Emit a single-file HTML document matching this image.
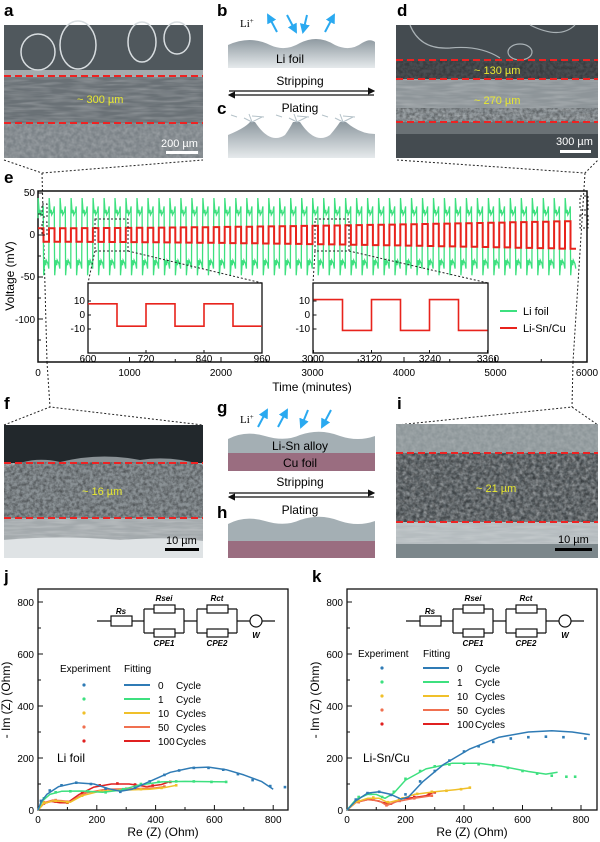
<!DOCTYPE html>
<html><head><meta charset="utf-8">
<style>
html,body{margin:0;padding:0;background:#fff;}
svg{display:block;font-family:"Liberation Sans",sans-serif;}
.lbl{font-weight:bold;font-size:17px;}
.t{font-size:11px;}
.tk{font-size:10px;}
</style></head><body>
<svg id="s" width="600" height="842" viewBox="0 0 600 842" xmlns="http://www.w3.org/2000/svg">
<defs>
<filter id="n1" x="0" y="0" width="100%" height="100%"><feTurbulence type="fractalNoise" baseFrequency="0.25" numOctaves="2" seed="3"/><feColorMatrix type="matrix" values="0 0 0 0 1  0 0 0 0 1  0 0 0 0 1  0 0 0 1.2 -0.3"/></filter>
<filter id="n2" x="0" y="0" width="100%" height="100%"><feTurbulence type="fractalNoise" baseFrequency="0.04 0.35" numOctaves="2" seed="7"/><feColorMatrix type="matrix" values="0 0 0 0 1  0 0 0 0 1  0 0 0 0 1  0 0 0 1 -0.35"/></filter>
<filter id="n3" x="0" y="0" width="100%" height="100%"><feTurbulence type="fractalNoise" baseFrequency="0.3" numOctaves="3" seed="11"/><feColorMatrix type="matrix" values="0 0 0 0 0  0 0 0 0 0  0 0 0 0 0  0 0 0 1.4 -0.45"/></filter>
<marker id="ah" markerWidth="6" markerHeight="6" refX="5" refY="3" orient="auto"><path d="M0,0 L6,3 L0,6 z" fill="#111"/></marker>
<marker id="bh" markerWidth="5" markerHeight="5" refX="4" refY="2.5" orient="auto"><path d="M0,0 L5,2.5 L0,5 z" fill="#2aa9f0"/></marker>
<linearGradient id="gf" x1="0" y1="0" x2="0" y2="1"><stop offset="0" stop-color="#8f9aa1"/><stop offset="1" stop-color="#e6eaec"/></linearGradient>
</defs>

<text class="lbl" x="4" y="16">a</text>
<text class="lbl" x="217" y="16">b</text>
<text class="lbl" x="397" y="16">d</text>
<text class="lbl" x="217" y="114">c</text>
<text class="lbl" x="4" y="183">e</text>
<text class="lbl" x="4" y="409">f</text>
<text class="lbl" x="217" y="413">g</text>
<text class="lbl" x="217" y="518">h</text>
<text class="lbl" x="397" y="409">i</text>
<text class="lbl" x="4" y="582">j</text>
<text class="lbl" x="312" y="582">k</text>

<!-- panel a -->
<g>
<rect x="4" y="25" width="199" height="133" fill="#5d656a"/>
<rect x="4" y="25" width="199" height="51" fill="#50585d"/>
<g fill="none" stroke="#d8dde0" stroke-width="1.5">
<ellipse cx="38" cy="52" rx="17" ry="18"/><ellipse cx="78" cy="45" rx="18" ry="24"/><ellipse cx="142" cy="42" rx="14" ry="20"/><ellipse cx="177" cy="38" rx="13" ry="16"/></g>
<rect x="4" y="70" width="199" height="7" fill="#c9cfd2" opacity="0.7"/>
<rect x="4" y="77" width="199" height="46" fill="#6a7176"/>
<rect x="4" y="77" width="199" height="46" filter="url(#n2)" opacity="0.45"/>
<rect x="4" y="123" width="199" height="35" fill="#7b8287"/>
<rect x="4" y="123" width="199" height="35" filter="url(#n1)" opacity="0.3"/>
<g stroke="#ee2222" stroke-width="2" stroke-dasharray="7 4"><line x1="4" y1="76" x2="203" y2="76"/><line x1="4" y1="123" x2="203" y2="123"/></g>
<text x="77" y="103" fill="#e8e830" class="t">~ 300 µm</text>
<text x="161" y="147" fill="#fff" class="t">200 µm</text>
<rect x="166" y="151" width="32" height="3" fill="#fff"/>
</g>

<!-- panel b/c -->
<g>
<text x="240" y="27" font-family="Liberation Serif" font-size="11">Li<tspan font-size="7" dy="-4">+</tspan></text>
<g stroke="#2aa9f0" stroke-width="2" marker-end="url(#bh)"><line x1="277" y1="32" x2="268" y2="15"/><line x1="287" y1="15" x2="296" y2="32"/><line x1="307" y1="15" x2="303" y2="32"/><line x1="325" y1="32" x2="334" y2="15"/></g>
<path d="M228,45 Q250,35 270,45 Q285,52 300,43 Q318,34 335,45 Q350,52 362,43 Q370,38 375,42 L375,68 L228,68 Z" fill="url(#gf)"/>
<text x="290" y="63" text-anchor="middle" font-size="12">Li foil</text>
<text x="300" y="85" text-anchor="middle" font-size="12">Stripping</text>
<line x1="229" y1="91" x2="374" y2="91" stroke="#111" stroke-width="1.2" marker-end="url(#ah)"/>
<line x1="374" y1="95" x2="229" y2="95" stroke="#111" stroke-width="1.2" marker-end="url(#ah)"/>
<text x="300" y="112" text-anchor="middle" font-size="12">Plating</text>
<path d="M228,135 Q245,128 250,122 L255,122 Q270,145 285,135 Q290,128 293,122 L300,122 Q315,145 330,135 Q336,128 340,122 L346,122 Q360,134 375,134 L375,158 L228,158 Z" fill="url(#gf)"/>
<g stroke="#b5c2c9" stroke-width="1" fill="none"><path d="M252,122 l-8,-4 m8,4 l10,-5 m-10,5 l-3,-8 m-12,3 l-6,-2 m21,1 l12,1"/><path d="M297,122 l-8,-4 m8,4 l10,-5 m-10,5 l-3,-8 m-12,3 l-6,-2 m21,1 l12,1"/><path d="M343,122 l-8,-4 m8,4 l10,-5 m-10,5 l-3,-8 m-12,3 l-6,-2 m21,1 l12,1"/></g>
</g>

<!-- panel d -->
<g>
<rect x="396" y="25" width="202" height="133" fill="#444b50"/>
<g fill="none" stroke="#aab2b6" stroke-width="1.2"><path d="M410,25 Q420,50 450,48 Q480,45 500,58"/><path d="M530,25 Q560,40 575,25"/><ellipse cx="520" cy="52" rx="12" ry="8"/></g>
<rect x="396" y="60" width="202" height="19" fill="#4a4e52"/>
<rect x="396" y="60" width="202" height="19" filter="url(#n3)" opacity="0.4"/>
<rect x="396" y="79" width="202" height="43" fill="#8e9599"/>
<rect x="396" y="79" width="202" height="43" filter="url(#n2)" opacity="0.4"/>
<rect x="396" y="108" width="202" height="14" filter="url(#n3)" opacity="0.5"/>
<rect x="396" y="122" width="202" height="12" fill="#6a7175"/>
<g stroke="#ee2222" stroke-width="2" stroke-dasharray="7 4"><line x1="396" y1="60" x2="598" y2="60"/><line x1="396" y1="79" x2="598" y2="79"/><line x1="396" y1="122" x2="598" y2="122"/></g>
<text x="474" y="74" fill="#e8e830" class="t">~ 130 µm</text>
<text x="474" y="104" fill="#e8e830" class="t">~ 270 µm</text>
<text x="556" y="145" fill="#fff" class="t">300 µm</text>
<rect x="560" y="150" width="31" height="3" fill="#fff"/>
</g>

<g stroke="#222" stroke-width="1" stroke-dasharray="2 2" fill="none">
<polyline points="4,160 42,173 203,160"/>
<line x1="42" y1="173" x2="47" y2="362"/>
<polyline points="397,160 585,173 598,160"/>
<line x1="585" y1="173" x2="573" y2="362"/>
<line x1="47" y1="362" x2="50" y2="407"/>
<polyline points="4,425 50,407 203,425"/>
<line x1="573" y1="362" x2="572" y2="407"/>
<polyline points="397,425 572,407 598,425"/>
</g>

<!-- panel e -->
<g id="e">
<rect x="38" y="191" width="549" height="171" fill="none" stroke="#111" stroke-width="1.5"/>
<g id="ew"></g>
<g class="tk" text-anchor="end">
<text x="35" y="196">50</text><text x="35" y="238">0</text><text x="35" y="280">-50</text><text x="35" y="323">-100</text>
</g>
<text transform="translate(14,276) rotate(-90)" text-anchor="middle" font-size="12">Voltage (mV)</text>
<text x="312" y="391" text-anchor="middle" font-size="12">Time (minutes)</text>
<g stroke="#222" stroke-dasharray="2 2" fill="none" stroke-width="1">
<rect x="42" y="204" width="5" height="13"/><rect x="42" y="222" width="5" height="13"/>
<rect x="580" y="196" width="8" height="14"/><rect x="580" y="215" width="8" height="13"/>
<rect x="95" y="219" width="33" height="32"/><rect x="315" y="219" width="34" height="32"/>
<line x1="95" y1="251" x2="88" y2="283"/><line x1="128" y1="251" x2="262" y2="283"/>
<line x1="315" y1="251" x2="313" y2="283"/><line x1="349" y1="251" x2="488" y2="283"/>
</g>
<rect x="88" y="283" width="174" height="70" fill="#fff" stroke="#111" stroke-width="1.3"/>
<rect x="313" y="283" width="175" height="70" fill="#fff" stroke="#111" stroke-width="1.3"/>
<g id="ins"></g>
<g class="tk" text-anchor="end"><text x="85" y="304">10</text><text x="85" y="318">0</text><text x="85" y="332">-10</text>
<text x="310" y="304">10</text><text x="310" y="318">0</text><text x="310" y="332">-10</text></g>
<g class="tk" text-anchor="middle" font-size="9.5"><text x="88" y="362">600</text><text x="146" y="362">720</text><text x="204" y="362">840</text><text x="262" y="362">960</text>
<text x="313" y="362">3000</text><text x="371" y="362">3120</text><text x="430" y="362">3240</text><text x="488" y="362">3360</text></g>
<line x1="500" y1="311" x2="517" y2="311" stroke="#3de07f" stroke-width="2"/>
<text x="523" y="315" font-size="11">Li foil</text>
<line x1="500" y1="328" x2="517" y2="328" stroke="#e8231c" stroke-width="2"/>
<text x="523" y="332" font-size="11">Li-Sn/Cu</text>
</g>

<!-- panel f -->
<g>
<rect x="4" y="425" width="199" height="133" fill="#aab0b3"/>
<rect x="4" y="425" width="199" height="38" fill="#22282c"/>
<path d="M4,470 Q30,455 60,462 Q100,452 140,460 Q170,455 203,465 L203,518 L4,518 Z" fill="#8a9195"/>
<rect x="4" y="462" width="199" height="56" filter="url(#n3)" opacity="0.55"/>
<rect x="4" y="518" width="199" height="22" fill="#a3a9ac"/>
<rect x="4" y="518" width="199" height="22" filter="url(#n2)" opacity="0.5"/>
<path d="M4,540 Q60,535 120,540 Q170,536 203,541 L203,558 L4,558Z" fill="#dfe3e5"/>
<g stroke="#ee2222" stroke-width="2" stroke-dasharray="7 4"><line x1="4" y1="463" x2="203" y2="463"/><line x1="4" y1="518" x2="203" y2="518"/></g>
<text x="82" y="495" fill="#e8e830" class="t">~ 16 µm</text>
<text x="166" y="544" fill="#000" class="t">10 µm</text>
<rect x="165" y="548" width="34" height="3" fill="#000"/>
</g>

<!-- g/h -->
<g>
<text x="240" y="423" font-family="Liberation Serif" font-size="11">Li<tspan font-size="7" dy="-4">+</tspan></text>
<g stroke="#2aa9f0" stroke-width="2" marker-end="url(#bh)"><line x1="258" y1="427" x2="267" y2="410"/><line x1="278" y1="427" x2="287" y2="410"/><line x1="308" y1="410" x2="301" y2="427"/><line x1="331" y1="410" x2="322" y2="427"/></g>
<path d="M228,439 Q245,430 265,436 Q285,442 300,435 Q320,428 340,436 Q358,442 375,436 L375,454 L228,454Z" fill="#a4afb4"/>
<rect x="228" y="453" width="147" height="18" fill="#9a6d80"/>
<text x="300" y="450" text-anchor="middle" font-size="12">Li-Sn alloy</text>
<text x="300" y="467" text-anchor="middle" font-size="12">Cu foil</text>
<text x="300" y="486" text-anchor="middle" font-size="12">Stripping</text>
<line x1="229" y1="493" x2="374" y2="493" stroke="#111" stroke-width="1.2" marker-end="url(#ah)"/>
<line x1="374" y1="497" x2="229" y2="497" stroke="#111" stroke-width="1.2" marker-end="url(#ah)"/>
<text x="300" y="514" text-anchor="middle" font-size="12">Plating</text>
<path d="M228,524 Q245,515 265,521 Q285,527 300,520 Q320,513 340,521 Q358,527 375,521 L375,542 L228,542Z" fill="#a4afb4"/>
<rect x="228" y="541" width="147" height="17" fill="#9a6d80"/>
</g>

<!-- panel i -->
<g>
<rect x="396" y="424" width="202" height="134" fill="#8d9699"/>
<rect x="396" y="424" width="202" height="30" filter="url(#n1)" opacity="0.25"/>
<rect x="396" y="453" width="202" height="69" fill="#555c60"/>
<rect x="396" y="453" width="202" height="69" filter="url(#n1)" opacity="0.55"/>
<rect x="396" y="453" width="202" height="69" filter="url(#n3)" opacity="0.5"/>
<rect x="396" y="522" width="202" height="22" fill="#b5bcbf"/>
<rect x="396" y="522" width="202" height="22" filter="url(#n2)" opacity="0.4"/>
<rect x="396" y="544" width="202" height="14" fill="#7c878b"/>
<g stroke="#ee2222" stroke-width="2" stroke-dasharray="7 4"><line x1="396" y1="453" x2="598" y2="453"/><line x1="396" y1="522" x2="598" y2="522"/></g>
<text x="476" y="492" fill="#e8e830" class="t">~ 21 µm</text>
<text x="558" y="543" fill="#000" class="t">10 µm</text>
<rect x="555" y="548" width="37" height="3" fill="#000"/>
</g>

<g id="jk"></g>
</svg>
<script>
var NS="http://www.w3.org/2000/svg";
function el(p,t,a,txt){var e=document.createElementNS(NS,t);for(var k in a)e.setAttribute(k,a[k]);if(txt!==undefined)e.textContent=txt;p.appendChild(e);return e;}
var ew=document.getElementById("ew");
function X(t){return 38+t*549/6000;}
function Y(v){return 235-v*0.84;}
var g="",r="";
for(var c=0;c<49;c++){
 var t0=c*120;
 var a=8+9*Math.pow(t0/6000,1.6);
 var hp=[[0,20],[2,44],[14,26],[24,30],[30,24],[48,28],[58,34]];
 var lp=[[60,-22],[62,-48],[74,-30],[84,-36],[90,-30],[108,-34],[118,-40]];
 var pts=hp.concat(lp);
 for(var i=0;i<pts.length;i++){var tt=t0+pts[i][0];g+=(c==0&&i==0?"M":"L")+X(tt).toFixed(1)+","+Y(pts[i][1]).toFixed(1);}
 r+=(c==0?"M":"L")+X(t0).toFixed(1)+","+Y(a).toFixed(1)+"L"+X(t0+60).toFixed(1)+","+Y(a).toFixed(1)+"L"+X(t0+60).toFixed(1)+","+Y(-a).toFixed(1)+"L"+X(t0+120).toFixed(1)+","+Y(-a).toFixed(1);
}
el(ew,"path",{d:g,fill:"none",stroke:"#3de07f","stroke-width":1.3});
el(ew,"path",{d:r,fill:"none",stroke:"#e8231c","stroke-width":2});
for(var t=0;t<=6000;t+=500){var x=X(t);el(ew,"line",{x1:x,y1:362,x2:x,y2:t%1000?359:357,stroke:"#111"});if(t%1000==0)el(ew,"text",{x:x,y:376,"text-anchor":"middle","font-size":10},String(t));}
for(var v=50;v>=-125;v-=25){el(ew,"line",{x1:38,y1:Y(v),x2:v%50?41:43,y2:Y(v),stroke:"#111"});}
var ins=document.getElementById("ins");
function inset(x0,amp){var s="";var sx=174/360;for(var k=0;k<3;k++){var b=x0+k*120*sx;s+=(k==0?"M":"L")+b+","+(315-amp*1.4)+"L"+(b+60*sx)+","+(315-amp*1.4)+"L"+(b+60*sx)+","+(315+amp*1.4)+"L"+(b+120*sx)+","+(315+amp*1.4);}
el(ins,"path",{d:s,fill:"none",stroke:"#e8231c","stroke-width":1.6});
for(var k=0;k<=3;k++){el(ins,"line",{x1:x0+k*58,y1:353,x2:x0+k*58,y2:350,stroke:"#111"});}
[10,0,-10].forEach(function(v){el(ins,"line",{x1:x0,y1:315-v*1.4,x2:x0+3,y2:315-v*1.4,stroke:"#111"});});}
inset(88,8);inset(313.5,11);

var jk=document.getElementById("jk");
var cols=["#2f7bb5","#3de07f","#f0c02a","#f07050","#e02020"];
function plot(x0,sx,data,dots,lab,leg,circ){
 var yb=810,sy=0.26;
 el(jk,"rect",{x:x0,y:589,width:250,height:221,fill:"none",stroke:"#111","stroke-width":1.3});
 for(var v=0;v<=800;v+=100){var y=yb-v*sy;el(jk,"line",{x1:x0,y1:y,x2:x0+(v%200?3:5),y2:y,stroke:"#111"});if(v%200==0)el(jk,"text",{x:x0-4,y:y+4,"text-anchor":"end","font-size":10},String(v));}
 for(var v=0;v*sx<=250;v+=100){var x=x0+v*sx;el(jk,"line",{x1:x,y1:yb,x2:x,y2:yb-(v%200?3:5),stroke:"#111"});if(v%200==0)el(jk,"text",{x:x,y:yb+13,"text-anchor":"middle","font-size":10},String(v));}
 el(jk,"text",{x:x0+125,y:836,"text-anchor":"middle","font-size":12},"Re (Z) (Ohm)");
 el(jk,"text",{transform:"translate("+(x0-28)+",700) rotate(-90)","text-anchor":"middle","font-size":12},"- Im (Z) (Ohm)");
 for(var i=4;i>=0;i--){
  var d="";data[i].forEach(function(p,k){d+=(k?"L":"M")+(x0+p[0]*sx).toFixed(1)+","+(yb-p[1]*sy).toFixed(1);});
  el(jk,"path",{d:d,fill:"none",stroke:cols[i],"stroke-width":1.5,"stroke-linejoin":"round"});
  dots[i].forEach(function(p){el(jk,"rect",{x:x0+p[0]*sx-1.3,y:yb-p[1]*sy-1.3,width:2.6,height:2.6,fill:cols[i]});});
 }
 el(jk,"text",{x:lab[0],y:lab[1],"font-size":12},lab[2]);
 el(jk,"text",{x:leg.ex,y:leg.hy,"font-size":10},"Experiment");
 el(jk,"text",{x:leg.fx,y:leg.hy,"font-size":10},"Fitting");
 var nm=["0","1","10","50","100"],tx=["Cycle","Cycle","Cycles","Cycles","Cycles"];
 for(var i=0;i<5;i++){var y=leg.y0+i*leg.dy;
  el(jk,"circle",{cx:leg.mx,cy:y,r:1.6,fill:cols[i]});
  el(jk,"line",{x1:leg.fx,y1:y,x2:leg.fx+26,y2:y,stroke:cols[i],"stroke-width":2});
  el(jk,"text",{x:leg.fx+34,y:y+4,"font-size":10},nm[i]);
  el(jk,"text",{x:leg.fx+52,y:y+4,"font-size":10},tx[i]);}
 var o=circ,gc=el(jk,"g",{stroke:"#111","stroke-width":1.2,fill:"none"});
 el(gc,"path",{d:"M"+o+",621 H"+(o+14)+" M"+(o+35)+",621 H"+(o+47)+" M"+(o+87)+",621 H"+(o+100)+" M"+(o+140)+",621 H"+(o+153)+" M"+(o+165)+",621 H"+(o+178)});
 el(gc,"rect",{x:o+14,y:616,width:21,height:10,fill:"#fff"});
 el(gc,"path",{d:"M"+(o+47)+",609 V633 M"+(o+87)+",609 V633 M"+(o+47)+",609 H"+(o+57)+" M"+(o+78)+",609 H"+(o+87)+" M"+(o+47)+",633 H"+(o+57)+" M"+(o+78)+",633 H"+(o+87)});
 el(gc,"rect",{x:o+57,y:605,width:21,height:8,fill:"#fff"});el(gc,"rect",{x:o+57,y:629,width:21,height:8,fill:"#fff"});
 el(gc,"path",{d:"M"+(o+100)+",609 V633 M"+(o+140)+",609 V633 M"+(o+100)+",609 H"+(o+110)+" M"+(o+131)+",609 H"+(o+140)+" M"+(o+100)+",633 H"+(o+110)+" M"+(o+131)+",633 H"+(o+140)});
 el(gc,"rect",{x:o+110,y:605,width:21,height:8,fill:"#fff"});el(gc,"rect",{x:o+110,y:629,width:21,height:8,fill:"#fff"});
 el(gc,"circle",{cx:o+159,cy:621,r:6,fill:"#fff"});
 var ts={"font-size":8,"font-style":"italic","font-weight":"bold","text-anchor":"middle"};
 function T(x,y,s){var a={x:x,y:y};for(var k in ts)a[k]=ts[k];el(jk,"text",a,s);}
 T(o+24,614,"Rs");T(o+67,601,"Rsei");T(o+120,601,"Rct");T(o+67,646,"CPE1");T(o+120,646,"CPE2");T(o+159,638,"W");
}
var jd=[
[[0,0],[10,30],[30,60],[70,90],[130,105],[190,100],[240,82],[280,72],[320,80],[380,110],[450,145],[520,162],[580,165],[640,155],[700,135],[760,110],[800,80]],
[[0,0],[15,35],[40,60],[80,72],[150,73],[220,68],[280,76],[340,95],[420,108],[500,110],[640,108]],
[[0,0],[20,25],[50,35],[80,33],[110,30],[150,55],[210,72],[300,77],[380,80],[430,86],[470,95]],
[[0,0],[20,28],[50,38],[80,36],[110,32],[160,65],[230,80],[320,82],[400,85],[430,90]],
[[0,0],[20,25],[45,33],[75,28],[100,28],[140,60],[190,88],[250,100],[310,100],[370,90],[420,98],[450,110]]];
var jdots=[
[[10,35],[40,75],[80,95],[130,105],[180,100],[230,82],[280,70],[330,85],[380,110],[430,135],[480,152],[530,162],[580,162],[630,155],[680,138],[730,115],[790,92],[840,88]],
[[20,45],[60,68],[110,72],[170,72],[230,68],[290,80],[350,100],[410,108],[470,110],[530,110],[590,108],[640,108]],
[[20,28],[60,35],[100,30],[150,55],[210,72],[280,76],[350,80],[420,85],[470,95]],
[[20,30],[60,38],[100,32],[160,65],[230,80],[300,82],[370,85],[430,90]],
[[20,25],[60,32],[100,28],[150,65],[210,95],[270,102],[330,98],[390,94],[450,108]]];
var kd=[
[[0,0],[30,35],[70,65],[110,70],[150,60],[185,42],[210,50],[260,110],[330,175],[420,235],[520,280],[620,300],[700,305],[770,300],[830,290]],
[[0,0],[30,40],[70,60],[100,60],[130,45],[160,65],[200,115],[270,158],[360,180],[450,180],[530,168],[620,148],[680,138],[720,145]],
[[0,0],[30,30],[70,45],[110,45],[140,28],[175,38],[230,60],[300,70],[370,78],[420,85]],
[[0,0],[30,28],[70,40],[110,35],[135,18],[170,32],[230,45],[290,55]],
[[0,0],[30,30],[80,42],[120,30],[150,22],[180,42],[230,48],[270,55],[300,70]]];
var kdots=[
[[30,40],[70,65],[110,70],[150,58],[200,60],[250,110],[300,150],[350,190],[400,225],[450,245],[500,262],[560,275],[620,280],[680,282],[740,280],[815,275]],
[[40,50],[80,62],[120,50],[160,70],[200,120],[250,150],[300,168],[350,175],[400,178],[450,176],[500,172],[550,162],[600,150],[650,140],[700,132],[750,128],[780,128]],
[[40,35],[90,48],[140,30],[190,45],[240,62],[290,70],[340,74],[390,80],[420,86]],
[[40,30],[90,40],[135,18],[180,35],[230,45],[290,55]],
[[40,32],[90,40],[140,22],[180,40],[230,50],[280,60],[300,68]]];
plot(38,0.294,jd,jdots,[57,762,"Li foil"],{ex:60,fx:124,hy:672,mx:84,y0:685,dy:14},97);
plot(347,0.2925,kd,kdots,[363,762,"Li-Sn/Cu"],{ex:358,fx:423,hy:657,mx:382,y0:668,dy:14},406);
</script>
</body></html>
